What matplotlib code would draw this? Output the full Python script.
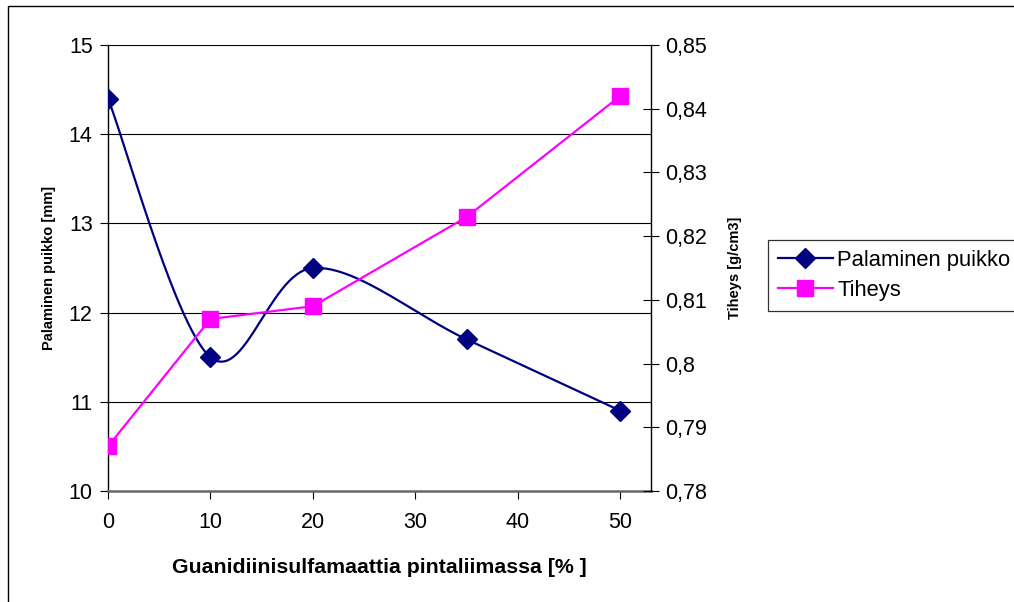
import numpy as np
import matplotlib
matplotlib.use("Agg")
import matplotlib.pyplot as plt
from matplotlib.patches import Rectangle
from matplotlib.lines import Line2D

plt.rcParams["font.family"] = ["Liberation Sans", "DejaVu Sans"]

# ── Data ──────────────────────────────────────────────────
x_pct = [0, 10, 20, 35, 50]
puikko = [14.4, 11.5, 12.5, 11.7, 10.9]        # mm
tiheys = [0.787, 0.807, 0.809, 0.823, 0.842]   # g/cm3

x_ticks = [0, 10, 20, 30, 40, 50]
left_ticks = [10, 11, 12, 13, 14, 15]
right_ticks = [0.78, 0.79, 0.80, 0.81, 0.82, 0.83, 0.84, 0.85]
right_labels = ["0,78", "0,79", "0,8", "0,81", "0,82", "0,83", "0,84", "0,85"]

NAVY = "#000080"
MAGENTA = "#FF00FF"


def excel_smooth(xs, ys, n=60):
    # Catmull-Rom style bezier like Excel's "smoothed line"
    P = np.column_stack([xs, ys]).astype(float)
    P = np.vstack([P[0], P, P[-1]])
    out = []
    t = np.linspace(0, 1, n)[:, None]
    for i in range(1, len(P) - 2):
        p0, p1, p2, p3 = P[i - 1], P[i], P[i + 1], P[i + 2]
        c1 = p1 + (p2 - p0) / 6
        c2 = p2 - (p3 - p1) / 6
        seg = ((1 - t) ** 3) * p1 + 3 * t * (1 - t) ** 2 * c1 \
            + 3 * t ** 2 * (1 - t) * c2 + t ** 3 * p2
        out.append(seg)
    out = np.vstack(out)
    return out[:, 0], out[:, 1]


fig = plt.figure(figsize=(10.14, 6.02), dpi=100)
ax = fig.add_axes([108 / 1014, 1 - 491 / 602, (651 - 108) / 1014, (491 - 45) / 602])
ax2 = ax.twinx()

# outer chart border
fig.patches.append(Rectangle((8 / 1014, -0.05), 1.1, 1 - 6 / 602 + 0.05,
                             transform=fig.transFigure, fill=False,
                             edgecolor="black", linewidth=1.0))

ax.set_xlim(0, 53)
ax.set_ylim(10, 15)
ax2.set_ylim(0.78, 0.85)

for yv in left_ticks[1:]:
    ax.axhline(yv, color="black", linewidth=0.8,
               zorder=0)

sx, sy = excel_smooth(x_pct, puikko)
ax.plot(sx, sy, color=NAVY, linewidth=1.6, zorder=3)
ax.plot(x_pct, puikko, linestyle="none", marker="D", markersize=10,
        color=NAVY, zorder=4)
ax2.plot(x_pct, tiheys, color=MAGENTA, linewidth=1.6, marker="s",
         markersize=11, zorder=3)

ax.set_xticks(x_ticks)
ax.set_yticks(left_ticks)
ax2.set_yticks(right_ticks)
ax2.set_yticklabels(right_labels)

for a in (ax, ax2):
    a.spines["top"].set_visible(False)
    a.patch.set_visible(False)
ax.spines["right"].set_visible(False)
ax2.spines["left"].set_visible(False)
ax2.spines["bottom"].set_visible(False)
ax.spines["bottom"].set_color("#666666")
ax.spines["bottom"].set_linewidth(1.8)
ax.spines["left"].set_linewidth(1.0)
ax2.spines["right"].set_linewidth(1.0)

ax.tick_params(axis="both", labelsize=15.5, length=6, width=0.8, direction="out")
ax.tick_params(axis="x", pad=9)
ax.tick_params(axis="y", pad=5)
ax2.tick_params(axis="y", labelsize=15.5, length=12, width=0.8, direction="inout", pad=4)

ax.set_xlabel("Guanidiinisulfamaattia pintaliimassa [% ]", fontsize=15.3,
              fontweight="bold", labelpad=18)
ax.set_ylabel("Palaminen puikko [mm]", fontsize=10.5, fontweight="bold", labelpad=9)
ax2.set_ylabel("Tiheys [g/cm3]", fontsize=10.5, fontweight="bold", labelpad=15)

handles = [
    Line2D([], [], color=NAVY, marker="D", markersize=10, linewidth=1.6),
    Line2D([], [], color=MAGENTA, marker="s", markersize=11, linewidth=1.6),
]
leg = fig.legend(handles, ["Palaminen puikko", "Tiheys"],
                 loc="upper left", bbox_to_anchor=(768 / 1014, 1 - 240 / 602),
                 fontsize=15.8, frameon=True, fancybox=False, handlelength=2.5,
                 handletextpad=0.2, borderpad=0.45, labelspacing=0.42,
                 borderaxespad=0)
leg.get_frame().set_edgecolor("black")
leg.get_frame().set_linewidth(0.9)

fig.savefig("out.png", dpi=100)
